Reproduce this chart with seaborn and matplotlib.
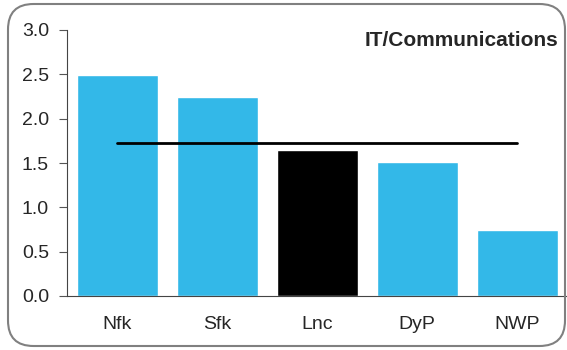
import matplotlib
matplotlib.use("Agg")
import matplotlib.pyplot as plt
import seaborn as sns
import pandas as pd
from matplotlib.patches import FancyBboxPatch

categories = ["Nfk", "Sfk", "Lnc", "DyP", "NWP"]
values = [2.49, 2.25, 1.65, 1.51, 0.745]
average = [1.73, 1.73, 1.73, 1.73, 1.73]
title = "IT/Communications"
yticks = [0.0, 0.5, 1.0, 1.5, 2.0, 2.5, 3.0]

sns.set_style("white")
plt.rcParams["font.family"] = ["Liberation Sans", "DejaVu Sans"]

df = pd.DataFrame({"cat": categories, "val": values, "avg": average})
palette = {c: ("#000000" if c == "Lnc" else "#33B8E8") for c in categories}

fig = plt.figure(figsize=(5.67, 3.5), dpi=100)
ax = fig.add_axes([67 / 567, 1 - 296 / 350, 1 - 67 / 567, (296 - 30) / 350])

sns.barplot(data=df, x="cat", y="val", hue="cat", palette=palette, width=0.81,
            saturation=1, legend=False, ax=ax)
sns.lineplot(data=df, x="cat", y="avg", color="black", linewidth=2, ax=ax,
             sort=False)

ax.set_ylim(0, 3.0)
ax.set_xlim(-0.5, 4.5)
ax.set_yticks(yticks)
ax.set_yticklabels([f"{t:.1f}" for t in yticks], fontsize=14)
ax.tick_params(axis="y", left=True, length=6, width=0.8, color="#555555", pad=7)
ax.tick_params(axis="x", bottom=False, labelsize=14, pad=11)
ax.set_xlabel("")
ax.set_ylabel("")
for s in ["top", "right"]:
    ax.spines[s].set_visible(False)
for s in ["left", "bottom"]:
    ax.spines[s].set_color("#444444")
    ax.spines[s].set_linewidth(0.8)

ax.text(0.982, 0.96, title, transform=ax.transAxes, ha="right", va="center",
        fontsize=15, fontweight="bold")

border = FancyBboxPatch((8 / 567, 4 / 350), 557 / 567, 342 / 350,
                        boxstyle="round,pad=0,rounding_size=0.045",
                        transform=fig.transFigure, fill=False,
                        edgecolor="#808080", linewidth=1.5, mutation_aspect=567 / 350)
fig.patches.append(border)

fig.savefig("out.png", dpi=100)
